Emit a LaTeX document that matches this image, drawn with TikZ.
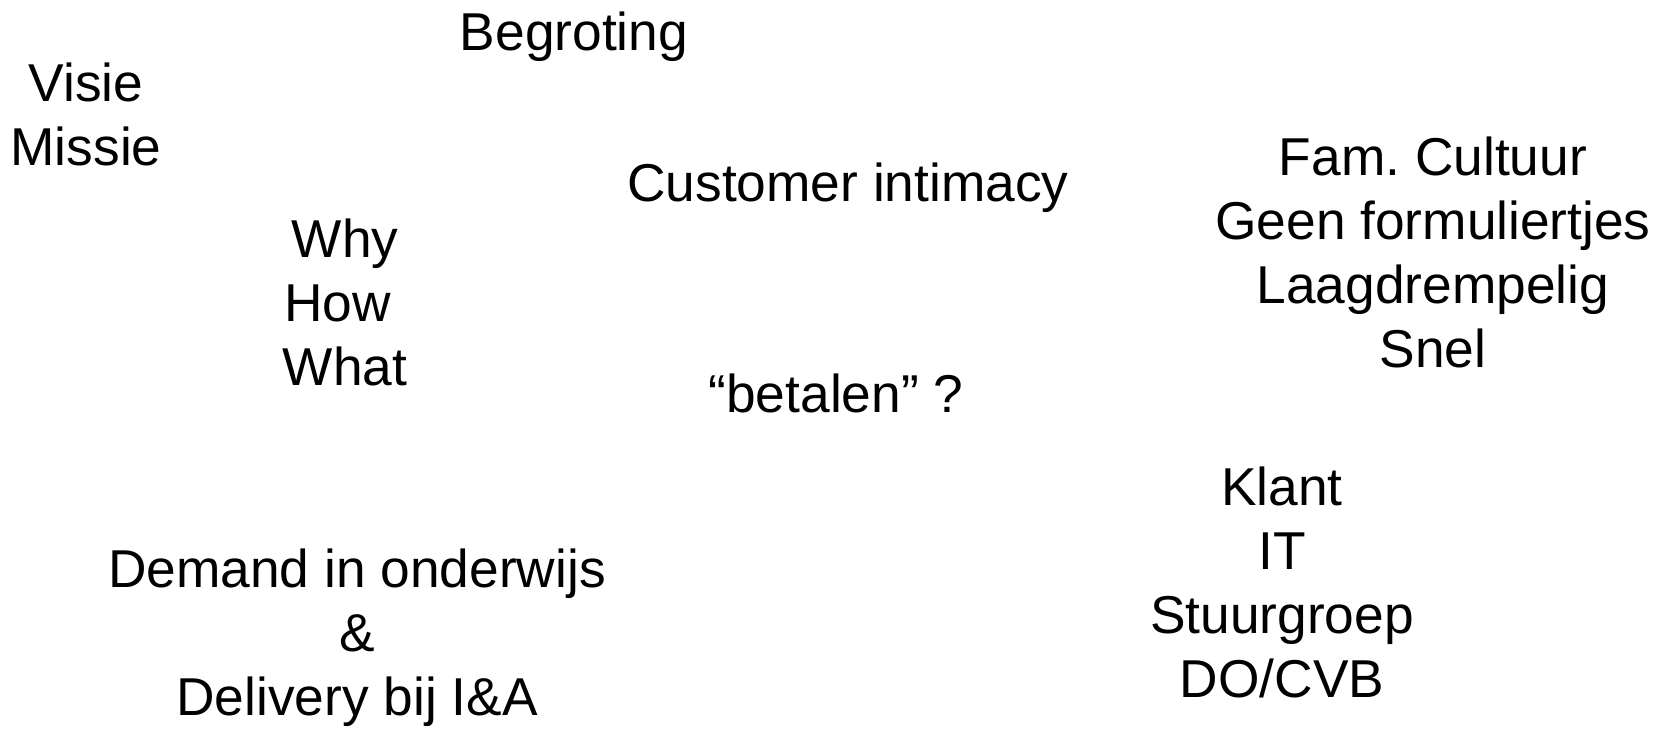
\documentclass[tikz,border=0pt]{standalone}
\usepackage{fontspec}
\setmainfont{Liberation Sans}
\frenchspacing
\begin{document}
\begin{tikzpicture}[x=1pt,y=-1pt,
  lbl/.style={anchor=north,inner sep=0pt,outer sep=0pt,align=center,
    font=\fontsize{53.3}{64}\selectfont}]
  \useasboundingbox[fill=white] (0,0) rectangle (1667,728);
  % each node is placed by the baseline of its first line (strut height 44.8pt)
  \node[lbl] (begroting) at (574,50-44.8) {\strut Begroting};
  \node[lbl] (visie) at (86,101-44.8) {\strut Visie\\Missie};
  \node[lbl] (why) at (345,257-44.8) {\strut Why\\How\rule{0.278em}{0pt}\\What};
  \node[lbl] (customer) at (848,201-44.8) {\strut Customer intimacy};
  \node[lbl] (betalen) at (836,412-44.8) {\strut “betalen” ?};
  \node[lbl] (cultuur) at (1433,175-44.8) {\strut Fam. Cultuur\\Geen formuliertjes\\Laagdrempelig\\Snel};
  \node[lbl] (klant) at (1282,505-44.8) {\strut Klant\\IT\\Stuurgroep\\DO/CVB};
  \node[lbl] (demand) at (357,587-44.8) {\strut Demand in onderwijs\\\&\\Delivery bij I\&A};
\end{tikzpicture}
\end{document}
